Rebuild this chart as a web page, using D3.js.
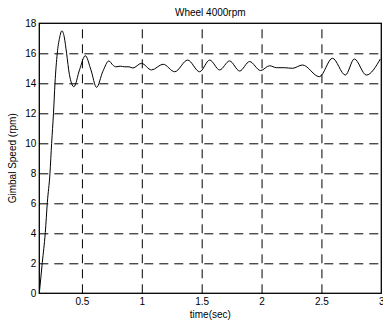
<!DOCTYPE html>
<html>
<head>
<meta charset="utf-8">
<script src="https://cdn.jsdelivr.net/npm/d3@7"></script>
<style>
  body { margin: 0; background: #fff; }
  svg { display: block; font-family: "Liberation Sans", Arial, sans-serif; }
</style>
</head>
<body>
<svg id="svg" width="383" height="324"></svg>
<script>
// step response
const timeSec = [0.144, 0.169, 0.194, 0.211, 0.233, 0.247, 0.2625, 0.275, 0.294, 0.3125, 0.333,
  0.352, 0.372, 0.395, 0.433, 0.48, 0.528, 0.575, 0.622, 0.675, 0.725, 0.76, 0.783, 0.82, 0.858, 0.893, 0.925,
  0.997, 1.081, 1.178, 1.275, 1.383, 1.483, 1.567, 1.65, 1.733, 1.817, 1.9, 1.992,
  2.067, 2.125, 2.19, 2.258, 2.342, 2.483, 2.592, 2.7, 2.775, 2.875, 2.992];
const gimbalSpeed = [0, 2.04, 4.04, 6.04, 8.0, 10, 12, 14, 16, 17.0, 17.5,
  17.1, 16.0, 14.6, 13.77, 14.9, 15.84, 14.9, 13.73, 14.8, 15.49, 15.2, 15.1, 15.14, 15.1, 15.1, 15.02,
  15.33, 14.89, 15.27, 14.77, 15.55, 14.77, 15.55, 14.89, 15.49, 14.82, 15.45, 14.85,
  15.17, 15.04, 15.04, 15.0, 15.22, 14.44, 15.67, 14.55, 15.62, 14.55, 15.62];

// tick labels
const xTicks = [0.5, 1, 1.5, 2, 2.5, 3];
const yTicks = [0, 2, 4, 6, 8, 10, 12, 14, 16, 18];

// plot box
const boxLeft = 39.3, boxTop = 23.3, boxRight = 381.3, boxBottom = 293.3;
const width = boxRight - boxLeft, height = boxBottom - boxTop;

const svg = d3.select('#svg');
const g = svg.append('g').attr('transform', 'translate(' + boxLeft + ',' + boxTop + ')');

const x = d3.scaleLinear().domain([0.144, 3]).range([0, width]);
const y = d3.scaleLinear().domain([0, 18]).range([height, 0]);

// dashed grid
g.append('g')
  .attr('class', 'grid')
  .attr('transform', 'translate(0,' + height + ')')
  .call(d3.axisBottom(x).tickValues(xTicks.filter(d => d < 3)).tickSize(-height).tickFormat(''))
  .call(s => s.select('.domain').remove());

g.append('g')
  .attr('class', 'grid')
  .call(d3.axisLeft(y).tickValues(yTicks.filter(d => d > 0 && d < 18)).tickSize(-width).tickFormat(''))
  .call(s => s.select('.domain').remove());

g.selectAll('.grid line')
  .attr('stroke', '#000')
  .attr('stroke-width', 1)
  .attr('stroke-dasharray', '9,6');

// curve
const line = d3.line()
  .x((d, i) => x(timeSec[i]))
  .y(d => y(d))
  .curve(d3.curveMonotoneX);

g.append('path')
  .datum(gimbalSpeed)
  .attr('fill', 'none')
  .attr('stroke', '#000')
  .attr('stroke-width', 1)
  .attr('d', line);

// box
g.append('rect')
  .attr('width', width)
  .attr('height', height)
  .attr('fill', 'none')
  .attr('stroke', '#000')
  .attr('stroke-width', 1.3);

// axis labels
g.append('g')
  .attr('transform', 'translate(0,' + height + ')')
  .call(d3.axisBottom(x).tickValues(xTicks).tickSize(0).tickPadding(5).tickFormat(d3.format('')))
  .call(s => s.select('.domain').remove())
  .selectAll('text')
  .attr('font-size', 10)
  .attr('fill', '#000');

g.append('g')
  .call(d3.axisLeft(y).tickValues(yTicks).tickSize(0).tickPadding(3))
  .call(s => s.select('.domain').remove())
  .selectAll('text')
  .attr('font-size', 10)
  .attr('fill', '#000');

// title
svg.append('text')
  .attr('x', boxLeft + width / 2)
  .attr('y', 16)
  .attr('text-anchor', 'middle')
  .attr('font-size', 10)
  .text('Wheel 4000rpm');

// x label
svg.append('text')
  .attr('x', boxLeft + width / 2)
  .attr('y', 318)
  .attr('text-anchor', 'middle')
  .attr('font-size', 10)
  .text('time(sec)');

// y label
svg.append('text')
  .attr('transform', 'rotate(-90)')
  .attr('x', -(boxTop + height / 2))
  .attr('y', 16)
  .attr('text-anchor', 'middle')
  .attr('font-size', 10)
  .text('Gimbal Speed (rpm)');
</script>
</body>
</html>
